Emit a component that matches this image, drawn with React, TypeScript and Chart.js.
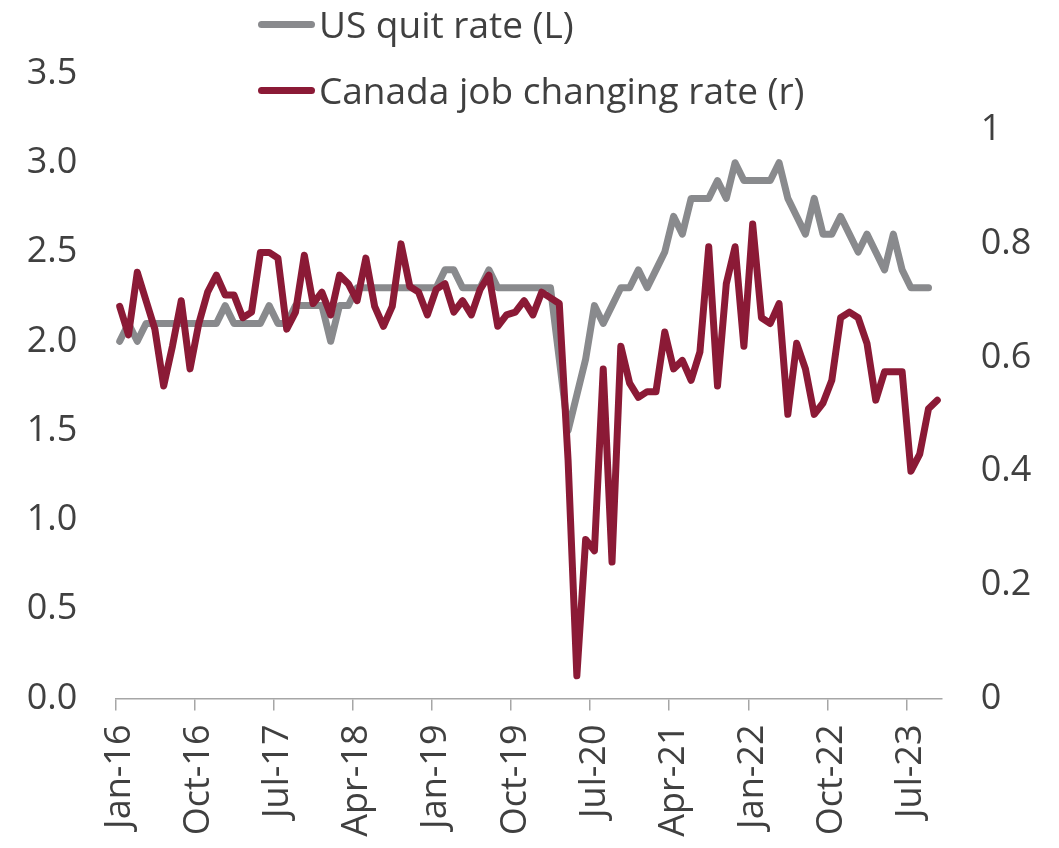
import React, { useEffect, useRef } from "react";
import { Chart, registerables } from "chart.js";

Chart.register(...registerables);

// Monthly categories, Jan-16 .. Oct-23
const categories = [
  "Jan-16","Feb-16","Mar-16","Apr-16","May-16","Jun-16","Jul-16","Aug-16","Sep-16","Oct-16","Nov-16","Dec-16",
  "Jan-17","Feb-17","Mar-17","Apr-17","May-17","Jun-17","Jul-17","Aug-17","Sep-17","Oct-17","Nov-17","Dec-17",
  "Jan-18","Feb-18","Mar-18","Apr-18","May-18","Jun-18","Jul-18","Aug-18","Sep-18","Oct-18","Nov-18","Dec-18",
  "Jan-19","Feb-19","Mar-19","Apr-19","May-19","Jun-19","Jul-19","Aug-19","Sep-19","Oct-19","Nov-19","Dec-19",
  "Jan-20","Feb-20","Mar-20","Apr-20","May-20","Jun-20","Jul-20","Aug-20","Sep-20","Oct-20","Nov-20","Dec-20",
  "Jan-21","Feb-21","Mar-21","Apr-21","May-21","Jun-21","Jul-21","Aug-21","Sep-21","Oct-21","Nov-21","Dec-21",
  "Jan-22","Feb-22","Mar-22","Apr-22","May-22","Jun-22","Jul-22","Aug-22","Sep-22","Oct-22","Nov-22","Dec-22",
  "Jan-23","Feb-23","Mar-23","Apr-23","May-23","Jun-23","Jul-23","Aug-23","Sep-23","Oct-23",
];

const shownTicks = [
  "Jan-16","Oct-16","Jul-17","Apr-18","Jan-19","Oct-19","Jul-20","Apr-21","Jan-22","Oct-22","Jul-23",
];

// US quit rate (left axis), Jan-16 .. Sep-23
const usQuitRate = [
  2.0, 2.1, 2.0, 2.1, 2.1, 2.1, 2.1, 2.1, 2.1, 2.1, 2.1, 2.1,
  2.2, 2.1, 2.1, 2.1, 2.1, 2.2, 2.1, 2.1, 2.2, 2.2, 2.2, 2.2,
  2.0, 2.2, 2.2, 2.3, 2.3, 2.3, 2.3, 2.3, 2.3, 2.3, 2.3, 2.3,
  2.3, 2.4, 2.4, 2.3, 2.3, 2.3, 2.4, 2.3, 2.3, 2.3, 2.3, 2.3,
  2.3, 2.3, 1.9, 1.5, 1.7, 1.9, 2.2, 2.1, 2.2, 2.3, 2.3, 2.4,
  2.3, 2.4, 2.5, 2.7, 2.6, 2.8, 2.8, 2.8, 2.9, 2.8, 3.0, 2.9,
  2.9, 2.9, 2.9, 3.0, 2.8, 2.7, 2.6, 2.8, 2.6, 2.6, 2.7, 2.6,
  2.5, 2.6, 2.5, 2.4, 2.6, 2.4, 2.3, 2.3, 2.3,
];

// Canada job changing rate (right axis), Jan-16 .. Oct-23
const canadaJobChanging = [
  0.69, 0.64, 0.75, 0.70, 0.65, 0.55, 0.62, 0.70, 0.58, 0.66, 0.715, 0.745,
  0.71, 0.71, 0.67, 0.68, 0.785, 0.785, 0.775, 0.65, 0.68, 0.78, 0.695, 0.715,
  0.675, 0.745, 0.73, 0.70, 0.775, 0.69, 0.655, 0.69, 0.80, 0.725, 0.715, 0.675,
  0.72, 0.73, 0.68, 0.70, 0.675, 0.72, 0.745, 0.655, 0.675, 0.68, 0.70, 0.675,
  0.715, 0.705, 0.695, 0.42, 0.04, 0.28, 0.26, 0.58, 0.24, 0.62, 0.555, 0.53,
  0.54, 0.54, 0.645, 0.58, 0.595, 0.56, 0.61, 0.795, 0.55, 0.73, 0.795, 0.62,
  0.835, 0.67, 0.66, 0.695, 0.50, 0.625, 0.58, 0.50, 0.52, 0.56, 0.67, 0.68,
  0.67, 0.625, 0.525, 0.575, 0.575, 0.575, 0.40, 0.43, 0.51, 0.525,
];

const leftTicks = [0, 0.5, 1.0, 1.5, 2.0, 2.5, 3.0, 3.5];
const rightTicks = [0, 0.2, 0.4, 0.6, 0.8, 1];

const RED = "#8B1A36";
const GRAY = "#898A8D";
const TEXT = "#404040";
const AXIS = "#A6A6A6";
const FONT = "'Open Sans', sans-serif";

export default function App() {
  const ref = useRef<HTMLCanvasElement>(null);

  useEffect(() => {
    if (!ref.current) return;
    const chart = new Chart(ref.current, {
      type: "line",
      data: {
        labels: categories,
        datasets: [
          {
            label: "Canada job changing rate (r)",
            data: canadaJobChanging,
            yAxisID: "yR",
            borderColor: RED,
            backgroundColor: RED,
            borderWidth: 7,
            pointRadius: 0,
            tension: 0,
            borderJoinStyle: "round",
            borderCapStyle: "round",
            order: 1,
          },
          {
            label: "US quit rate (L)",
            data: usQuitRate,
            yAxisID: "yL",
            borderColor: GRAY,
            backgroundColor: GRAY,
            borderWidth: 7,
            pointRadius: 0,
            tension: 0,
            borderJoinStyle: "round",
            borderCapStyle: "round",
            order: 2,
          },
        ],
      },
      options: {
        responsive: false,
        animation: false,
        layout: { padding: { top: 65.4, left: 0, right: 0, bottom: 0 } },
        plugins: {
          legend: { display: false },
          tooltip: { enabled: false },
        },
        scales: {
          x: {
            type: "category",
            offset: true,
            grid: {
              offset: true,
              drawOnChartArea: false,
              drawTicks: true,
              tickLength: 12,
              color: (ctx: any) =>
                ctx.index < categories.length && shownTicks.includes(categories[ctx.index])
                  ? AXIS
                  : "rgba(0,0,0,0)",
              lineWidth: 1.5,
            },
            border: { display: true, color: AXIS, width: 1.5 },
            ticks: {
              autoSkip: false,
              minRotation: 90,
              maxRotation: 90,
              padding: 14,
              color: TEXT,
              font: { family: FONT, size: 36 },
              callback: (value: any, index: number) => {
                const l = categories[index];
                return shownTicks.includes(l) ? l : "";
              },
            },
            afterFit: (s: any) => {
              s.height = 141.5;
            },
          },
          yL: {
            type: "linear",
            position: "left",
            min: 0,
            max: 3.5,
            afterBuildTicks: (s: any) => {
              s.ticks = leftTicks.map((v) => ({ value: v }));
            },
            grid: { display: false, drawTicks: false },
            border: { display: false },
            ticks: {
              padding: 38,
              color: TEXT,
              font: { family: FONT, size: 36 },
              callback: (v: any) => Number(v).toFixed(1),
            },
            afterFit: (s: any) => {
              s.width = 107.3;
            },
          },
          yR: {
            type: "linear",
            position: "right",
            min: 0,
            max: 1.1,
            afterBuildTicks: (s: any) => {
              s.ticks = rightTicks.map((v) => ({ value: v }));
            },
            grid: { display: false, drawTicks: false },
            border: { display: false },
            ticks: {
              padding: 39,
              color: TEXT,
              font: { family: FONT, size: 36 },
              callback: (v: any) => String(v),
            },
            afterFit: (s: any) => {
              s.width = 109.3;
            },
          },
        },
      },
    });
    return () => chart.destroy();
  }, []);

  const legendRow = (top: number, color: string, text: string) => (
    <div
      style={{
        position: "absolute",
        left: 250,
        top: top,
        height: 40,
        display: "flex",
        alignItems: "center",
        whiteSpace: "nowrap",
      }}
    >
      <div
        style={{
          width: 57,
          height: 7,
          borderRadius: 3.5,
          background: color,
          marginRight: 4,
        }}
      />
      <span
        style={{
          fontFamily: FONT,
          fontSize: 37,
          color: TEXT,
          lineHeight: "40px",
        }}
      >
        {text}
      </span>
    </div>
  );

  return (
    <div style={{ position: "relative", width: 1043, height: 832 }}>
      <canvas ref={ref} width={1043} height={832} style={{ display: "block" }} />
      {legendRow(-4, GRAY, "US quit rate (L)")}
      {legendRow(62, RED, "Canada job changing rate (r)")}
    </div>
  );
}
